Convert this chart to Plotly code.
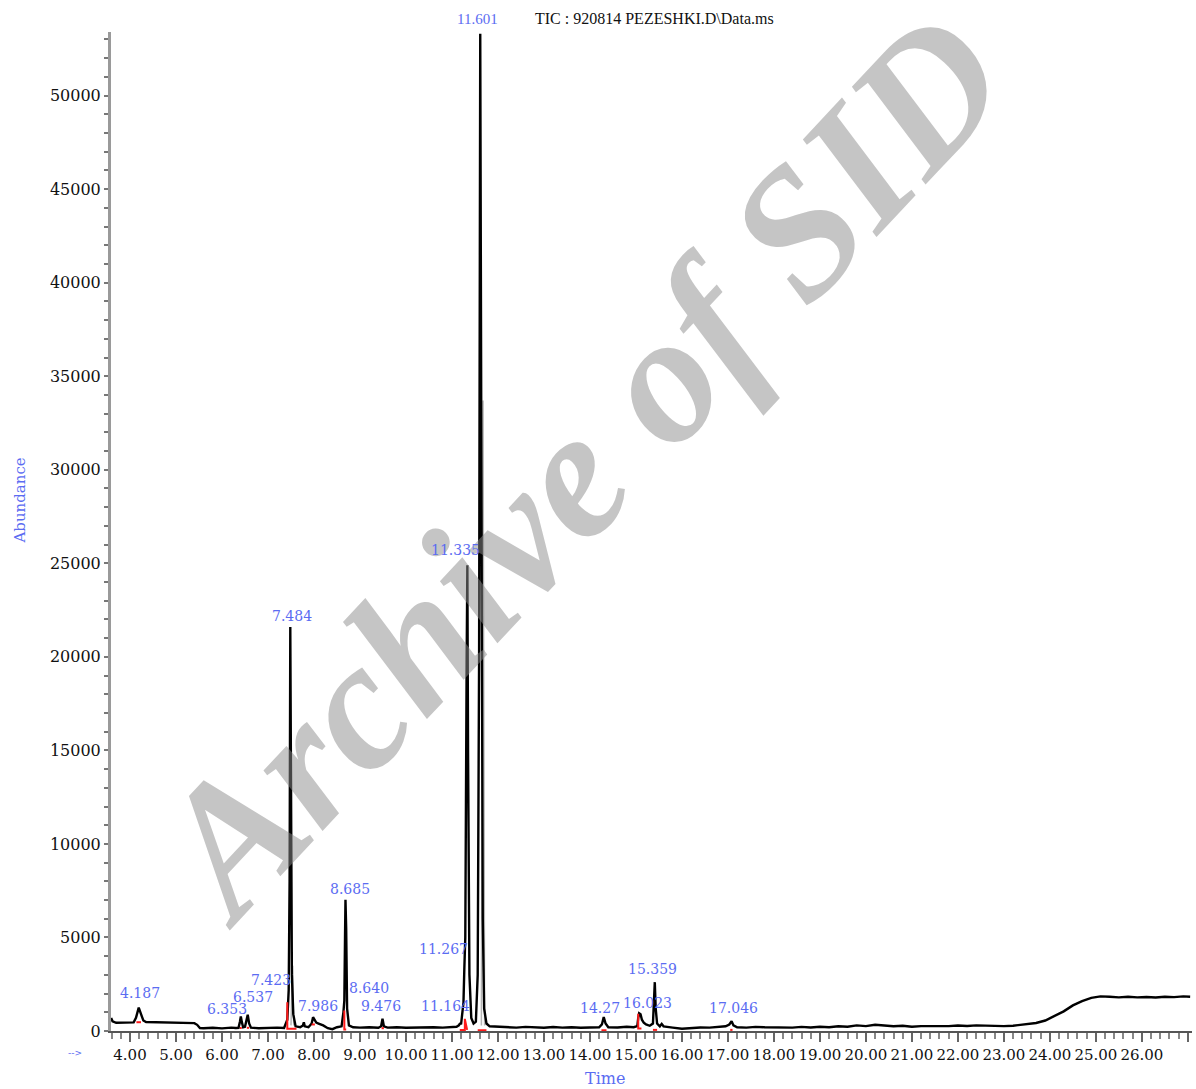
import plotly.graph_objects as go

# ---------------- data ----------------
time_min = [3.59, 3.62, 3.70, 3.80, 3.90, 4.00, 4.08, 4.13, 4.19, 4.24, 4.29, 4.35, 4.50, 4.70, 4.90,
            5.10, 5.30, 5.40, 5.46, 5.52, 5.60, 5.80, 6.00, 6.20, 6.30, 6.36, 6.39, 6.41, 6.43, 6.46,
            6.50, 6.54, 6.56, 6.59, 6.63, 6.80, 7.00, 7.20, 7.35, 7.42, 7.45, 7.47, 7.485, 7.50, 7.52,
            7.55, 7.60, 7.70, 7.76, 7.78, 7.80, 7.88, 7.95, 7.98, 8.01, 8.05, 8.10, 8.20, 8.30, 8.40,
            8.50, 8.60, 8.64, 8.66, 8.675, 8.685, 8.70, 8.72, 8.76, 8.85, 9.00, 9.20, 9.40, 9.46, 9.49,
            9.52, 9.60, 9.80, 10.0, 10.2, 10.4, 10.6, 10.8, 11.0, 11.1, 11.15, 11.17, 11.20, 11.25, 11.27,
            11.29, 11.32, 11.335, 11.35, 11.38, 11.42, 11.47, 11.52, 11.56, 11.59, 11.615, 11.64, 11.67, 11.70, 11.75,
            11.82, 12.0, 12.2, 12.4, 12.6, 12.8, 13.0, 13.2, 13.4, 13.6, 13.8, 14.0, 14.2, 14.26, 14.30,
            14.34, 14.40, 14.6, 14.8, 14.95, 15.03, 15.05, 15.07, 15.10, 15.13, 15.17, 15.22, 15.30, 15.37, 15.39,
            15.41, 15.43, 15.46, 15.52, 15.56, 15.60, 15.7, 15.8, 16.0, 16.2, 16.4, 16.6, 16.8, 16.95, 17.03,
            17.08, 17.12, 17.2, 17.4, 17.6, 17.8, 18.0, 18.2, 18.4, 18.6, 18.8, 19.0, 19.2, 19.4, 19.6,
            19.8, 20.0, 20.2, 20.4, 20.6, 20.8, 21.0, 21.2, 21.4, 21.6, 21.8, 22.0, 22.2, 22.4, 22.6,
            22.8, 23.0, 23.2, 23.35, 23.5, 23.7, 23.9, 24.1, 24.3, 24.5, 24.7, 24.9, 25.1, 25.3, 25.5,
            25.7, 25.9, 26.1, 26.3, 26.5, 26.7, 26.9, 27.05]
abundance = [700, 520, 440, 450, 440, 450, 460, 700, 1250, 900, 560, 480, 470, 450, 440,
             450, 430, 420, 330, 160, 150, 170, 140, 180, 160, 170, 500, 780, 500, 200,
             230, 600, 870, 400, 180, 150, 170, 180, 160, 600, 2170, 8000, 21600, 14000, 3000,
             900, 250, 200, 300, 470, 250, 200, 400, 740, 600, 450, 400, 300, 150, 100,
             200, 250, 1000, 1630, 5000, 7020, 5500, 1200, 300, 200, 180, 200, 170, 250, 650,
             250, 180, 200, 170, 190, 170, 200, 180, 200, 230, 300, 385, 400, 1500, 3400,
             5000, 20000, 24900, 15000, 3000, 700, 400, 500, 3000, 20000, 53300, 30000, 6000, 1200, 400,
             250, 220, 200, 180, 220, 190, 170, 210, 180, 200, 170, 190, 200, 350, 740,
             400, 200, 190, 230, 200, 260, 700, 950, 900, 600, 450, 350, 280, 400, 1500,
             2610, 1200, 400, 250, 380, 250, 200, 180, 120, 170, 190, 180, 200, 250, 350,
             525, 300, 200, 180, 220, 200, 190, 210, 180, 220, 190, 230, 200, 250, 230,
             300, 260, 330, 280, 250, 280, 230, 260, 250, 280, 260, 290, 270, 300, 280,
             270, 260, 280, 330, 380, 430, 560, 800, 1050, 1370, 1600, 1770, 1850, 1830, 1800,
             1830, 1800, 1820, 1790, 1830, 1810, 1850, 1830]

# faint doubled (ghost) traces beside the big peaks
ghost_time = [7.50, 7.525, 7.535, 7.56, None, 11.64, 11.665, 11.675, 11.71]
ghost_abund = [300, 3500, 3500, 300, None, 300, 33700, 33700, 300]

# red integration marks at peak bases
red_time = [4.14, 4.24, None, 6.39, 6.43, None, 6.54, 6.59, None, 7.42, 7.42, 7.62, None,
            7.95, 8.02, None, 8.66, 8.66, 8.70, None, 9.47, 9.52, None, 11.17, 11.28, 11.28, 11.33, None,
            11.56, 11.75, None, 14.25, 14.36, None, 15.05, 15.05, 15.12, None, 15.37, 15.46, None, 17.05, 17.10]
red_abund = [470, 470, None, 160, 160, None, 170, 170, None, 1540, 120, 120, None,
             350, 350, None, 1100, 80, 80, None, 150, 150, None, 60, 60, 650, 60, None,
             40, 40, None, 40, 40, None, 920, 130, 130, None, 60, 60, None, 60, 60]

# peak labels: retention time text, label x (min), label height (abundance)
peak_labels = ["4.187", "6.353", "6.537", "7.423", "7.484", "7.986", "8.685", "8.640", "9.476",
               "11.164", "11.267", "11.335", "14.27", "16.023", "15.359", "17.046"]
label_x = [4.187, 6.353, 6.537, 7.423, 7.484, 7.986, 8.685, 8.640, 9.476,
           11.164, 11.267, 11.335, 14.27, 16.023, 15.359, 17.046]
label_y = [2032, 1177, 1818, 2728, 22195, 1337, 7594, 2300, 1337,
           1337, 4386, 25725, 1230, 1497, 3316, 1230]
label_xshift = [1.4, -11, 6, -16.5, 2, 4.6, 4.5, 25.6, -1,
                -14.5, -21, -11.4, -2.4, -35, 0.5, 3]

top_label = "11.601"
top_label_x = 11.601

x_ticks_dtick = 1.0
y_ticks_dtick = 5000

# ---------------- figure ----------------
BLUE = "#5b6cf2"
fig = go.Figure()

fig.add_trace(go.Scatter(x=ghost_time, y=ghost_abund, mode="lines",
                         line=dict(color="#b5b5b5", width=1.5), hoverinfo="skip", showlegend=False))
fig.add_trace(go.Scatter(x=time_min, y=abundance, mode="lines",
                         line=dict(color="#000000", width=2.4), showlegend=False))
fig.add_trace(go.Scatter(x=red_time, y=red_abund, mode="lines",
                         line=dict(color="#ff1a1a", width=2), hoverinfo="skip", showlegend=False))

annotations = []
# watermark
annotations.append(dict(text="Archive of SID", xref="paper", yref="paper", x=0.432, y=0.566,
                        xanchor="center", yanchor="middle", showarrow=False, textangle=-47,
                        font=dict(family="Liberation Serif", size=184, color="rgba(140,140,140,0.5)",
                                  weight="bold", style="italic")))
for txt, lx, ly, xs in zip(peak_labels, label_x, label_y, label_xshift):
    annotations.append(dict(text=txt, x=lx, y=ly, xref="x", yref="y", showarrow=False,
                            xanchor="center", yanchor="middle", xshift=xs,
                            font=dict(family="DejaVu Serif", size=14, color=BLUE)))
annotations.append(dict(text=top_label, x=top_label_x, y=1, xref="x", yref="paper", showarrow=False,
                        xanchor="center", yanchor="middle", xshift=-2.6, yshift=13,
                        font=dict(family="Liberation Serif", size=15, color=BLUE)))
annotations.append(dict(text="TIC : 920814 PEZESHKI.D\\Data.ms", x=0.39, y=1, xref="paper", yref="paper",
                        showarrow=False, xanchor="left", yanchor="middle", yshift=14,
                        font=dict(family="Liberation Serif", size=16, color="#111111")))
annotations.append(dict(text="Abundance", x=0, y=0.531, xref="paper", yref="paper", showarrow=False,
                        xanchor="center", yanchor="middle", xshift=-91, textangle=-90,
                        font=dict(family="DejaVu Serif", size=15, color=BLUE)))
annotations.append(dict(text="Time", x=0.457, y=0, xref="paper", yref="paper", showarrow=False,
                        xanchor="center", yanchor="middle", yshift=-47,
                        font=dict(family="DejaVu Serif", size=16, color=BLUE)))
annotations.append(dict(text="-->", x=0, y=0, xref="paper", yref="paper", showarrow=False,
                        xanchor="center", yanchor="middle", xshift=-36, yshift=-22,
                        font=dict(family="DejaVu Sans", size=9, color=BLUE)))

fig.update_layout(
    width=1196, height=1089,
    margin=dict(l=111, r=4, t=32, b=58, pad=0),
    paper_bgcolor="white", plot_bgcolor="white",
    annotations=annotations,
    xaxis=dict(range=[3.587, 27.09], showgrid=False, zeroline=False,
               showline=True, linecolor="#555555", linewidth=2,
               tick0=0, dtick=x_ticks_dtick, tickformat=".2f", tickangle=0,
               ticks="outside", ticklen=9, tickwidth=2, tickcolor="#666666",
               tickfont=dict(family="DejaVu Serif", size=15, color="#111111"),
               minor=dict(dtick=0.2, ticks="outside", ticklen=6, tickwidth=2, tickcolor="#888888")),
    yaxis=dict(range=[0, 53400], showgrid=False, zeroline=False,
               showline=True, linecolor="#9a9a9a", linewidth=3,
               tick0=0, dtick=y_ticks_dtick, tickformat="d",
               ticks="outside", ticklen=4, tickwidth=2, tickcolor="#777777",
               tickfont=dict(family="DejaVu Serif", size=16, color="#111111"),
               minor=dict(dtick=1000, ticks="outside", ticklen=4, tickwidth=2, tickcolor="#777777")),
)

fig.write_html("out.html", config={"displayModeBar": False},
               post_script="document.body.style.margin='0';document.body.style.overflow='hidden';")
